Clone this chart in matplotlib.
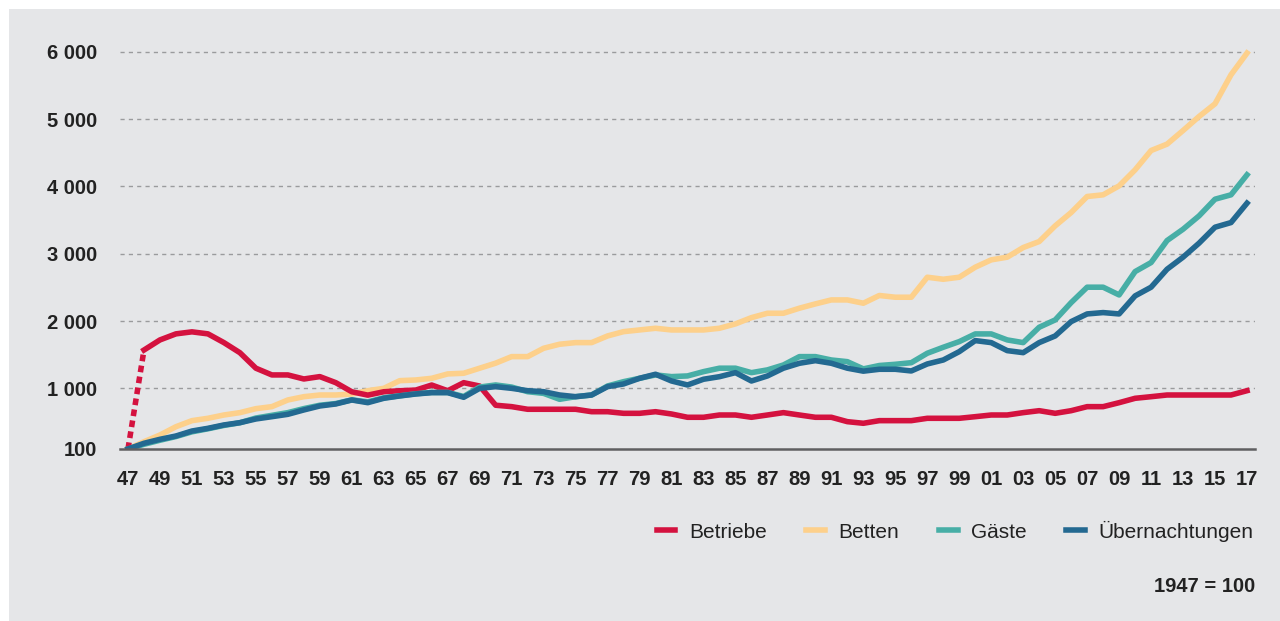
import matplotlib.pyplot as plt
from matplotlib.patches import Rectangle
from matplotlib.ticker import FuncFormatter
import numpy as np

plt.rcParams['font.family'] = ['Liberation Sans', 'DejaVu Sans']

years = np.arange(1947, 2018)

# index values, 1947 = 100
betriebe = [100, 1570, 1720, 1810, 1840, 1810, 1680, 1530, 1300, 1200,
            1200, 1140, 1175, 1085, 950, 900, 950, 965, 975, 1050,
            965, 1085, 1035, 750, 729, 690, 690, 690, 690, 654,
            654, 630, 630, 654, 620, 571, 571, 605, 605, 571,
            605, 640, 605, 571, 571, 506, 482, 521, 521, 521,
            556, 556, 556, 580, 605, 605, 640, 669, 630, 669,
            729, 729, 788, 853, 877, 902, 902, 902, 902, 902, 966]
betten = [100, 208, 308, 431, 521, 556, 605, 640, 699, 729,
          828, 877, 902, 902, 917, 966, 1001, 1115, 1125, 1150,
          1215, 1225, 1300, 1375, 1472, 1472, 1596, 1656, 1680, 1680,
          1779, 1843, 1868, 1893, 1868, 1868, 1868, 1893, 1958, 2051,
          2116, 2116, 2191, 2255, 2314, 2314, 2265, 2380, 2354, 2354,
          2651, 2621, 2651, 2800, 2909, 2949, 3092, 3181, 3414, 3612,
          3850, 3875, 4008, 4246, 4533, 4628, 4830, 5038, 5227, 5658, 5980]
gaeste = [100, 170, 230, 285, 355, 400, 450, 490, 560, 600,
          640, 700, 750, 775, 830, 800, 860, 890, 920, 940,
          940, 880, 1020, 1051, 1020, 951, 926, 838, 877, 902,
          1036, 1100, 1150, 1200, 1175, 1185, 1249, 1300, 1300, 1234,
          1275, 1348, 1472, 1472, 1422, 1397, 1290, 1340, 1358, 1382,
          1522, 1611, 1695, 1809, 1809, 1720, 1680, 1908, 2017, 2274,
          2503, 2503, 2388, 2735, 2869, 3196, 3364, 3562, 3810, 3875, 4172]
uebernachtungen = [100, 185, 244, 293, 367, 407, 457, 491, 546, 580,
                   615, 680, 739, 769, 828, 788, 853, 888, 917, 937,
                   937, 868, 1001, 1026, 1001, 966, 951, 902, 877, 902,
                   1026, 1066, 1150, 1210, 1110, 1051, 1136, 1174, 1234, 1110,
                   1185, 1300, 1373, 1412, 1373, 1300, 1256, 1284, 1284, 1259,
                   1363, 1422, 1546, 1710, 1680, 1561, 1531, 1680, 1779, 1992,
                   2106, 2126, 2106, 2374, 2503, 2770, 2949, 3157, 3394, 3463, 3751]

yticks = [100, 1000, 2000, 3000, 4000, 5000, 6000]
xticks = np.arange(1947, 2018, 2)

c_betriebe = '#d4123f'
c_betten = '#fdd08b'
c_gaeste = '#47aea6'
c_ueber = '#236991'
bg = '#e5e6e8'

fig = plt.figure(figsize=(12.8, 6.21), dpi=100)
fig.patch.set_facecolor('white')
fig.patches.append(Rectangle((9 / 1280, 0), 1 - 9 / 1280, 1 - 9 / 621,
                             transform=fig.transFigure, facecolor=bg,
                             edgecolor='none', zorder=-10))

ax = fig.add_axes([120 / 1280, 1 - 449 / 621, 1135 / 1280, 404 / 621])
ax.set_facecolor('none')

lw = 4.0
ax.plot(years[:2], betriebe[:2], color=c_betriebe, lw=lw, ls=(0, (1.2, 0.8)),
        solid_capstyle='butt', dash_capstyle='butt', zorder=3)
ax.plot(years[1:], betriebe[1:], color=c_betriebe, lw=lw, label='Betriebe',
        solid_joinstyle='round', zorder=3)
ax.plot(years, betten, color=c_betten, lw=lw, label='Betten',
        solid_joinstyle='round', zorder=2)
ax.plot(years, gaeste, color=c_gaeste, lw=lw, label='Gäste',
        solid_joinstyle='round', zorder=4)
ax.plot(years, uebernachtungen, color=c_ueber, lw=lw, label='Übernachtungen',
        solid_joinstyle='round', zorder=5)

ax.set_xlim(1946.5, 2017.5)
ax.set_ylim(100, 6100)
ax.set_yticks(yticks)
ax.yaxis.set_major_formatter(FuncFormatter(lambda v, p: f'{int(v):,}'.replace(',', ' ')))
ax.set_xticks(xticks)
ax.set_xticklabels([f'{y % 100:02d}' for y in xticks])

for v in yticks[1:]:
    ax.axhline(v, color='#9a9b9d', lw=1.0, ls=(0, (3, 3)), zorder=1)

for s in ['top', 'right', 'left']:
    ax.spines[s].set_visible(False)
ax.spines['bottom'].set_color('#5f5f61')
ax.spines['bottom'].set_linewidth(1.8)
ax.spines['bottom'].set_zorder(6)

ax.tick_params(axis='both', length=0, labelsize=14.5, colors='#222222')
ax.tick_params(axis='x', pad=15)
ax.tick_params(axis='y', pad=16.5)
for lab in ax.get_xticklabels() + ax.get_yticklabels():
    lab.set_fontweight('bold')

handles, labels = ax.get_legend_handles_labels()
leg = fig.legend(handles, labels, loc='center right', bbox_to_anchor=(1262 / 1280, 1 - 531 / 621),
                 ncol=4, frameon=False, fontsize=15, handlelength=0.9,
                 handletextpad=0.65, columnspacing=1.9, borderaxespad=0)
for t in leg.get_texts():
    t.set_color('#222222')

fig.text(1255 / 1280, 1 - 587 / 621, '1947 = 100', ha='right', va='center',
         fontsize=14.5, fontweight='bold', color='#222222')

fig.savefig('out.png', dpi=100, facecolor=fig.get_facecolor())
